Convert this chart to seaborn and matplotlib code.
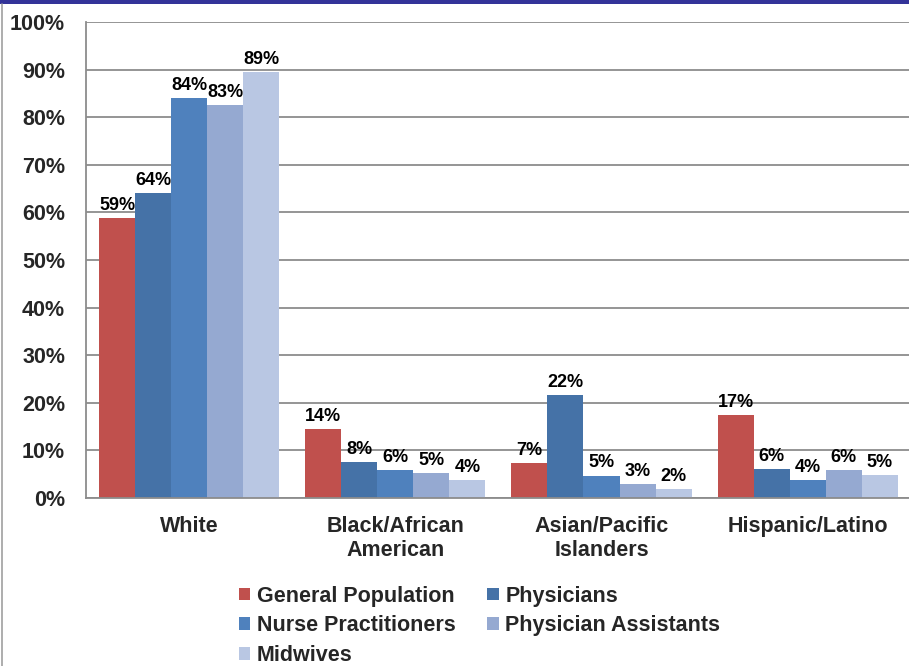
import numpy as np
import pandas as pd
import seaborn as sns
from matplotlib import pyplot as plt
from matplotlib.lines import Line2D
from matplotlib.patches import Rectangle, Patch

groups = ['White', 'Black/African\nAmerican', 'Asian/Pacific\nIslanders', 'Hispanic/Latino']
series = ['General Population', 'Physicians', 'Nurse Practitioners', 'Physician Assistants', 'Midwives']
gen_pop = [58.8, 14.5, 7.3, 17.4]
physicians = [64.1, 7.5, 21.7, 6.1]
nurse_pract = [84.0, 5.8, 4.7, 3.7]
phys_assist = [82.6, 5.3, 3.0, 5.9]
midwives = [89.4, 3.7, 1.8, 4.9]
colors = ['#C0504D', '#4572A7', '#4F81BD', '#95A9D1', '#B9C7E3']

vals = [gen_pop, physicians, nurse_pract, phys_assist, midwives]
rows = []
for s, v in zip(series, vals):
    for g, x in zip(groups, v):
        rows.append({'group': g, 'series': s, 'pct': x})
df = pd.DataFrame(rows)

sns.set_style('white')
plt.rcParams['font.family'] = ['Liberation Sans', 'DejaVu Sans']
plt.rcParams['font.weight'] = 'bold'

fig = plt.figure(figsize=(9.09, 6.66), dpi=100)
ax = fig.add_axes([86 / 909, 1 - 498 / 666, 1 - 86 / 909 + 0.002, (498 - 22) / 666])

sns.barplot(data=df, x='group', y='pct', hue='series', palette=colors,
            width=0.874, gap=0, saturation=1, ax=ax, legend=False,
            edgecolor='none', linewidth=0)

# value labels above each bar
for cont, v in zip(ax.containers, vals):
    ax.bar_label(cont, labels=[f'{round(x)}%' for x in v], padding=3,
                 fontsize=13, fontweight='bold', color='black')

ax.set_ylim(0, 100)
ax.set_xlim(-0.5, 3.5)
ax.set_yticks(range(0, 101, 10))
ax.set_yticklabels([f'{t}%' for t in range(0, 101, 10)])
ax.yaxis.grid(True, color='#8C8C8C', linewidth=1.3)
ax.set_axisbelow(True)
ax.set_xlabel('')
ax.set_ylabel('')
ax.tick_params(axis='y', length=0, pad=15, labelsize=15.5)
ax.tick_params(axis='x', length=0, pad=13, labelsize=15.5)
for lab in ax.get_xticklabels() + ax.get_yticklabels():
    lab.set_fontweight('bold')
for side in ['top', 'right']:
    ax.spines[side].set_visible(False)
for side in ['left', 'bottom']:
    ax.spines[side].set_color('#8C8C8C')
    ax.spines[side].set_linewidth(1.3)

# legend: two columns, filled column-wise
order = [0, 2, 4, 1, 3]
handles = [Patch(facecolor=colors[i], edgecolor='none') for i in order]
labels = [series[i] for i in order]
fig.legend(handles, labels, ncol=2, loc='upper left', bbox_to_anchor=(230 / 909, 1 - 577 / 666),
           frameon=False, prop={'weight': 'bold', 'size': 15.5},
           handlelength=0.55, handleheight=0.55, handletextpad=0.3,
           columnspacing=1.45, labelspacing=0.4, borderaxespad=0)

fig.add_artist(Rectangle((0, 1 - 4 / 666), 1, 4 / 666, transform=fig.transFigure,
                         facecolor='#333399', edgecolor='none'))
fig.add_artist(Line2D([2 / 909, 2 / 909], [0, 1 - 4 / 666], transform=fig.transFigure,
                      color='#A0A0A0', linewidth=1.2))

fig.savefig('out.png', dpi=100)
